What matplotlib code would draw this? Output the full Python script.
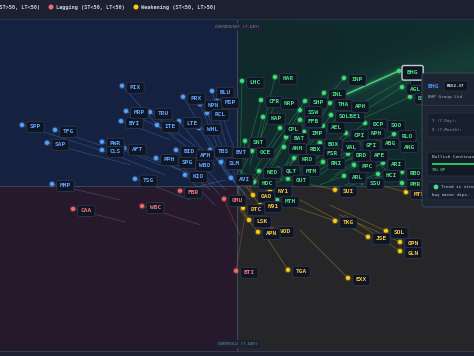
import numpy as np
import matplotlib.pyplot as plt
from matplotlib.patches import Rectangle, FancyBboxPatch

MONO = 'DejaVu Sans Mono'
MID = 50

# Improving (ST>50, LT<50)
imp_names = ['PIX', 'SPP', 'TFG', 'SAP', 'PWR', 'CLS', 'AFT', 'BYI', 'MRP', 'TRU',
             'ITE', 'LTE', 'PRX', 'BLU', 'NPN', 'MSP', 'RCL', 'WHL', 'BID', 'SPG',
             'PPH', 'AFH', 'WBO', 'TBS', 'SLM', 'KIO', 'TSG', 'MMP', 'AVI', 'BVT']
imp_x = [27.0, 7.0, 13.6, 12.0, 23.0, 23.0, 27.4, 26.8, 27.8, 32.6,
         34.0, 38.4, 39.2, 45.0, 42.6, 46.0, 44.0, 42.4, 37.8, 37.4,
         33.8, 41.0, 40.8, 44.6, 46.8, 39.6, 29.6, 13.0, 48.8, 48.2]
imp_y = [80.9, 68.8, 67.3, 63.3, 63.6, 61.1, 61.7, 70.0, 73.1, 72.8,
         68.8, 70.0, 77.5, 79.3, 75.3, 76.2, 72.5, 67.9, 61.1, 57.7,
         58.6, 59.9, 56.8, 61.1, 57.4, 53.4, 52.2, 50.6, 52.5, 60.8]
imp_tx = [34.6, 22.6, 22.6, 28.6, 34.6, 35.6, 38.6, 36.6, 37.6, 42.6,
          43.6, 45.6, 45.6, 48.6, 47.6, 50.6, 49.6, 48.6, 45.6, 44.6,
          42.6, 47.6, 46.6, 50.6, 51.6, 45.6, 40.6, 26.6, 52.6, 51.6]
imp_ty = [67.9, 61.1, 62.6, 56.5, 56.5, 53.4, 54.9, 64.2, 65.7, 61.1,
          58.0, 56.5, 61.1, 58.0, 56.5, 56.5, 53.4, 51.8, 50.3, 48.8,
          51.8, 48.8, 47.2, 48.8, 47.2, 44.1, 45.7, 45.7, 45.7, 51.8]

# Lagging (ST<50, LT<50)
lag_names = ['FBR', 'WBC', 'CAA', 'OMU', 'BTI']
lag_x = [38.6, 31.0, 17.2, 47.4, 49.8]
lag_y = [48.5, 43.8, 42.9, 46.0, 23.8]
lag_tx = [47.6, 42.6, 27.6, 50.6, 51.6]
lag_ty = [51.8, 38.0, 38.9, 34.9, 41.0]

# Weakening (ST<50, LT>50)
wk_names = ['OAO', 'NY1', 'DTC', 'N91', 'LSK', 'VOD', 'APN', 'TGA', 'EXX', 'TKG',
            'SUI', 'JSE', 'SOL', 'OPN', 'GLN', 'MTN']
wk_x = [53.2, 56.6, 51.2, 54.6, 52.4, 57.0, 54.2, 60.2, 72.2, 69.6,
        69.6, 76.2, 79.8, 82.6, 82.6, 83.8]
wk_y = [47.2, 48.8, 43.2, 44.1, 39.5, 36.4, 35.8, 24.1, 21.6, 39.2,
        48.8, 34.3, 36.1, 32.7, 29.9, 48.1]
wk_tx = [51.6, 52.6, 50.2, 51.6, 50.0, 53.6, 50.6, 55.6, 62.6, 54.6,
         60.6, 62.6, 68.6, 70.6, 71.6, 74.6]
wk_ty = [53.4, 53.4, 48.8, 50.3, 45.7, 44.1, 42.6, 34.9, 36.4, 47.2,
         51.8, 45.7, 44.1, 41.0, 41.0, 51.8]

# Leading (ST>50, LT>50)
ld_names = ['HDC', 'MTH', 'PMR', 'LHC', 'HAR', 'CFR', 'NRP', 'KAP', 'SNT', 'OCE',
            'SHP', 'SSW', 'INL', 'THA', 'SOLBE1', 'FFB', 'CPL', 'IMP', 'AEL', 'BAT',
            'ANH', 'RBX', 'BOX', 'FSR', 'INP', 'APH', 'BHG', 'AGL', 'NTC', 'DSY',
            'DCP', 'SOO', 'NPH', 'CPI', 'RLO', 'ABG', 'ANG', 'VAL', 'GFI', 'DRD',
            'AFE', 'PPC', 'RNI', 'ARI', 'HCI', 'RBO', 'ARL', 'SSU', 'KRO', 'QLT',
            'NED', 'MTM', 'OUT']
ld_x = [53.4, 58.0, 83.0, 51.0, 57.6, 54.8, 57.8, 55.2, 51.6, 53.0,
        63.6, 62.6, 67.4, 68.6, 68.8, 62.6, 58.6, 63.4, 67.2, 59.8,
        59.4, 63.0, 66.6, 66.4, 71.4, 72.0, 82.4, 83.0, 83.8, 84.6,
        75.6, 79.2, 75.2, 71.8, 81.4, 78.0, 81.8, 70.2, 74.2, 72.2,
        75.8, 73.4, 67.2, 79.2, 78.2, 83.0, 71.4, 75.0, 61.4, 58.2,
        54.4, 62.2, 60.2]
ld_y = [51.2, 45.7, 50.9, 82.4, 83.6, 76.5, 75.9, 71.3, 63.9, 60.8,
        76.2, 73.4, 78.7, 75.6, 71.9, 70.4, 67.9, 66.7, 68.5, 65.1,
        62.0, 61.7, 63.3, 60.5, 83.3, 75.0, 85.5, 80.5, 83.3, 77.5,
        69.4, 69.1, 66.7, 66.3, 66.0, 63.6, 62.6, 62.6, 63.0, 59.9,
        59.9, 56.5, 57.4, 57.1, 53.7, 54.3, 53.1, 51.2, 58.6, 55.2,
        54.6, 55.2, 52.2]
ld_tx = [50.6, 53.6, 78.6, 50.6, 54.6, 51.6, 53.6, 52.6, 50.6, 50.6,
         56.6, 57.6, 60.6, 62.6, 62.6, 56.6, 53.6, 58.6, 60.6, 53.6,
         54.6, 58.6, 60.6, 62.6, 62.6, 65.6, 71.6, 72.6, 72.6, 74.6,
         68.6, 71.6, 68.6, 65.6, 72.6, 70.6, 72.6, 64.6, 66.6, 66.6,
         69.6, 68.6, 62.6, 72.6, 71.6, 75.6, 66.6, 69.6, 57.6, 55.6,
         52.6, 58.6, 56.6]
ld_ty = [54.9, 51.8, 56.5, 54.9, 64.2, 58.0, 61.1, 56.5, 50.3, 53.4,
         61.1, 58.0, 64.2, 61.1, 58.0, 56.5, 54.9, 53.4, 56.5, 51.8,
         50.3, 51.8, 53.4, 51.8, 67.3, 62.6, 78.1, 70.4, 73.4, 70.4,
         61.1, 61.1, 58.0, 58.0, 58.0, 56.5, 54.9, 54.9, 54.9, 53.4,
         53.4, 51.8, 50.3, 51.8, 50.3, 51.8, 50.3, 48.8, 53.4, 51.8,
         51.8, 51.8, 50.3]

selected = 'BHG'

groups = [
    (imp_names, imp_x, imp_y, imp_tx, imp_ty, '#5aa0f5', '#64a4ff'),
    (lag_names, lag_x, lag_y, lag_tx, lag_ty, '#f26b6b', '#f07575'),
    (wk_names, wk_x, wk_y, wk_tx, wk_ty, '#facc15', '#f5c542'),
    (ld_names, ld_x, ld_y, ld_tx, ld_ty, '#3ee07a', '#4ade80'),
]

fig = plt.figure(figsize=(4.74, 3.56), dpi=100, facecolor='#1b2130')
ax = fig.add_axes([0, 5 / 356, 1, 332 / 356])
x0, x1, y0, y1 = 2.6, 97.4, -0.93, 101.5
ax.set_xlim(x0, x1)
ax.set_ylim(y0, y1)
ax.axis('off')

# quadrant backgrounds
ax.add_patch(Rectangle((x0, MID), MID - x0, y1 - MID, fc='#152140', ec='none', zorder=0))
ax.add_patch(Rectangle((MID, MID), x1 - MID, y1 - MID, fc='#10292b', ec='none', zorder=0))
ax.add_patch(Rectangle((x0, y0), MID - x0, MID - y0, fc='#26192b', ec='none', zorder=0))
ax.add_patch(Rectangle((MID, y0), x1 - MID, MID - y0, fc='#262628', ec='none', zorder=0))

# soft green glow along the selected trail
gx, gy = np.meshgrid(np.linspace(0, 1, 300), np.linspace(0, 1, 300))
d = np.abs(0.36 * gx - gy + 0.38) / np.hypot(0.36, 1)
glow = np.zeros((300, 300, 4))
glow[..., 0], glow[..., 1], glow[..., 2] = 0.25, 0.85, 0.55
glow[..., 3] = 0.09 * np.exp(-(d / 0.13) ** 2) * np.clip(gx * 2.2 - 0.4, 0, 1) + 0.03 * gx * gy
ax.imshow(glow, extent=(MID, x1, MID, y1), origin='lower', aspect='auto', zorder=0.5)

ax.axvline(MID, color='#3a4a5c', lw=0.8, zorder=1)
ax.axhline(MID, color='#3b4256', lw=0.8, zorder=1)

for names, xs, ys, txs, tys, dot_c, txt_c in groups:
    for n, x, y, tx, ty in zip(names, xs, ys, txs, tys):
        if n == selected:
            for lw, a in [(7, 0.05), (3.5, 0.12), (1.1, 0.9)]:
                ax.plot([tx, x], [ty, y], color='#4ade80', lw=lw, alpha=a,
                        solid_capstyle='round', zorder=2.5)
        else:
            ax.plot([tx, x], [ty, y], color=dot_c, lw=0.6, alpha=0.3, zorder=2)
    ax.scatter(xs, ys, s=22, color=dot_c, alpha=0.25, edgecolors='none', zorder=3)
    ax.scatter(xs, ys, s=9, color=dot_c, edgecolors='none', zorder=3.5)

for names, xs, ys, txs, tys, dot_c, txt_c in groups:
    for n, x, y in zip(names, xs, ys):
        sel = n == selected
        ax.annotate(n, (x, y), xytext=(5.6, -1.4), textcoords='offset points',
                    ha='left', va='center', fontsize=4.6 if sel else 4.4,
                    family=MONO, weight='bold', color=txt_c,
                    bbox=dict(boxstyle='round,pad=%s,rounding_size=0.3' % (0.75 if sel else 0.5),
                              fc='#0e1524', ec='#d0d6de' if sel else '#2d384b',
                              lw=1.0 if sel else 0.6, alpha=0.95),
                    zorder=6 if sel else 4)

# overlay in pixel coordinates for the chrome around the chart
ov = fig.add_axes([0, 0, 1, 1], zorder=10)
ov.set_xlim(0, 474)
ov.set_ylim(356, 0)
ov.axis('off')

ov.plot([0, 474], [19, 19], color='#2c3648', lw=0.8)
ov.plot([0, 474], [351, 351], color='#2f3a4d', lw=0.8)

leg = dict(fontsize=3.8, family=MONO, weight='bold', color='#c9d1dc', va='center')
ov.text(40, 7, 'Improving (ST>50, LT<50)', ha='right', **leg)
ov.scatter([51], [7], s=13, color='#f26b6b', edgecolors='none')
ov.text(56, 7, 'Lagging (ST<50, LT<50)', ha='left', **leg)
ov.scatter([136], [7], s=13, color='#facc15', edgecolors='none')
ov.text(141, 7, 'Weakening (ST<50, LT>50)', ha='left', **leg)

tag = dict(fontsize=3.0, family=MONO, color='#7d8798', ha='center', va='center',
           bbox=dict(boxstyle='round,pad=0.45,rounding_size=0.3', fc='#1a2233', ec='none'))
ov.text(238, 27, 'OVERBOUGHT (7-DAY)', **tag)
ov.text(238, 344, 'OVERSOLD (7-DAY)', **tag)

# tooltip panel
ov.add_patch(FancyBboxPatch((422, 73), 60, 134, boxstyle='round,pad=0,rounding_size=4',
                            fc='#1d2533', ec='#394457', lw=0.8))
ov.text(428, 86, 'BHG', color='#4f8ff7', fontsize=4.6, weight='bold', family=MONO, va='center')
ov.text(456, 86, 'R652.37', color='#e5e9ef', fontsize=3.1, weight='bold', family=MONO,
        ha='center', va='center',
        bbox=dict(boxstyle='round,pad=0.7,rounding_size=0.3', fc='#0e1420', ec='#2c3647', lw=0.5))
ov.text(428, 97, 'BHP Group Ltd', color='#a6b0bf', fontsize=3.2, family=MONO, va='center')
ov.plot([422, 474], [105, 105], color='#2e394a', lw=0.6)

ov.add_patch(FancyBboxPatch((427, 113), 55, 24, boxstyle='round,pad=0,rounding_size=2',
                            fc='#171f2c', ec='#2a3445', lw=0.5))
ov.text(432, 121, 'Y (7-Day):', color='#8c97a6', fontsize=3.0, family=MONO, va='center')
ov.text(432, 130, 'X (7-Month):', color='#8c97a6', fontsize=3.0, family=MONO, va='center')

ov.add_patch(FancyBboxPatch((427, 152), 55, 24, boxstyle='round,pad=0,rounding_size=2',
                            fc='#131a26', ec='#2e394a', lw=0.5))
ov.text(432, 157, 'Bullish Continuation', color='#c9d1dc', fontsize=3.2, family=MONO, va='center')
ov.add_patch(Rectangle((432, 163), 50, 2, fc='#22c55e', ec='none'))
ov.text(432, 170, '76% UP', color='#4ade80', fontsize=2.5, family=MONO, weight='bold', va='center')

ov.add_patch(FancyBboxPatch((427, 182), 55, 18, boxstyle='round,pad=0,rounding_size=2',
                            fc='#17202e', ec='#2e394a', lw=0.5))
ov.scatter([436], [187], s=12, color='#4ade80', edgecolors='none')
ov.text(441, 187, 'Trend is strong,', color='#c9d1dc', fontsize=3.1, family=MONO, va='center')
ov.text(432, 195, 'buy minor dips.', color='#c9d1dc', fontsize=3.1, family=MONO, va='center')

fig.savefig('out.png', dpi=100, facecolor=fig.get_facecolor())
